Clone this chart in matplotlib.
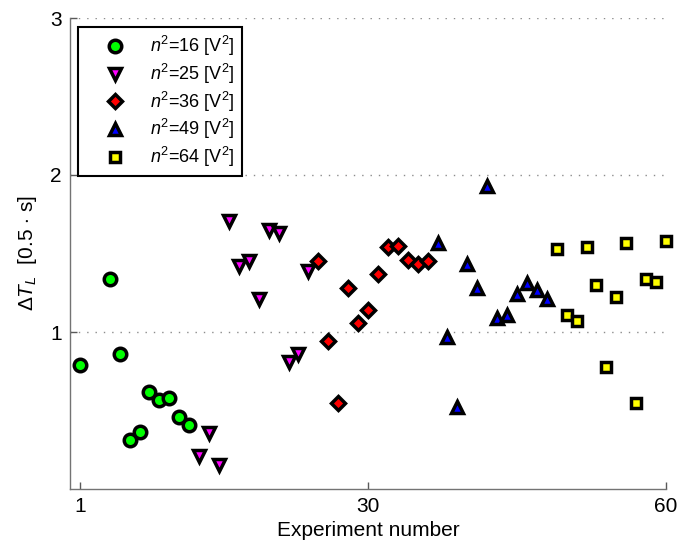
import matplotlib
matplotlib.use("Agg")
import matplotlib.pyplot as plt

plt.rcParams['font.family'] = ['Liberation Sans', 'DejaVu Sans']
plt.rcParams['mathtext.fontset'] = 'custom'
plt.rcParams['mathtext.rm'] = 'Liberation Sans'
plt.rcParams['mathtext.it'] = 'Liberation Sans:italic'
plt.rcParams['mathtext.bf'] = 'Liberation Sans:bold'

# ---- data ----
x16 = [1, 4, 5, 6, 7, 8, 9, 10, 11, 12]
y16 = [0.79, 1.34, 0.86, 0.31, 0.36, 0.62, 0.57, 0.58, 0.46, 0.41]

x25 = [13, 14, 15, 16, 17, 18, 19, 20, 21, 22, 23, 24]
y25 = [0.21, 0.355, 0.15, 1.71, 1.42, 1.45, 1.21, 1.65, 1.63, 0.81, 0.86, 1.39]

x36 = [25, 26, 27, 28, 29, 30, 31, 32, 33, 34, 35, 36]
y36 = [1.45, 0.94, 0.55, 1.28, 1.06, 1.14, 1.37, 1.54, 1.55, 1.46, 1.43, 1.45]

x49 = [37, 38, 39, 40, 41, 42, 43, 44, 45, 46, 47, 48]
y49 = [1.57, 0.97, 0.52, 1.43, 1.28, 1.93, 1.09, 1.11, 1.24, 1.31, 1.27, 1.21]

x64 = [49, 50, 51, 52, 53, 54, 55, 56, 57, 58, 59, 60]
y64 = [1.53, 1.11, 1.07, 1.54, 1.30, 0.78, 1.22, 1.57, 0.55, 1.34, 1.32, 1.58]

labels = [r"$n^2$=16 [$\mathrm{V}^2$]", r"$n^2$=25 [$\mathrm{V}^2$]",
          r"$n^2$=36 [$\mathrm{V}^2$]", r"$n^2$=49 [$\mathrm{V}^2$]",
          r"$n^2$=64 [$\mathrm{V}^2$]"]
xticks = [1, 30, 60]
yticks = [1, 2, 3]

fig = plt.figure(figsize=(6.77, 5.44), dpi=100)
ax = fig.add_axes([70/677, 1 - 489/544, 596/677, 471/544])

kw = dict(linestyle='none', markeredgecolor='black', markeredgewidth=2.5, zorder=3, clip_on=False)
ax.plot(x16, y16, marker='o', markersize=9, markerfacecolor='#00ff00', label=labels[0], **kw)
ax.plot(x25, y25, marker='v', markersize=8.5, markerfacecolor='#ff00ff', label=labels[1], **kw)
ax.plot(x36, y36, marker='D', markersize=6.8, markerfacecolor='#ff0000', label=labels[2], **kw)
ax.plot(x49, y49, marker='^', markersize=8.5, markerfacecolor='#0000ff', label=labels[3], **kw)
ax.plot(x64, y64, marker='s', markersize=7, markerfacecolor='#ffff00', label=labels[4], **kw)

ax.set_xlim(0, 60)
ax.set_ylim(0, 3)
ax.set_xticks(xticks)
ax.set_yticks(yticks)
ax.tick_params(direction='in', length=5, width=1, colors='0.35', labelcolor='black',
               labelsize=15, pad=6)

for s in ['top', 'right']:
    ax.spines[s].set_visible(False)
for s in ['left', 'bottom']:
    ax.spines[s].set_color('0.45')
    ax.spines[s].set_linewidth(1)

ax.yaxis.grid(True, linestyle=(0, (1, 5)), color='0.55', linewidth=1)
ax.set_axisbelow(True)

ax.set_xlabel("Experiment number", fontsize=15, labelpad=3)
ax.set_ylabel(r"$\Delta T_L$  [0.5 $\cdot$ s]", fontsize=15, labelpad=8)

leg = ax.legend(loc='upper left', bbox_to_anchor=(8/596, 462/471), borderaxespad=0,
                numpoints=1, fontsize=13, frameon=True, fancybox=False,
                edgecolor='black', framealpha=1, borderpad=0.4,
                handlelength=3.3, handletextpad=0.3, labelspacing=0.2)
leg.get_frame().set_linewidth(1.5)

fig.savefig("out.png", dpi=100)
